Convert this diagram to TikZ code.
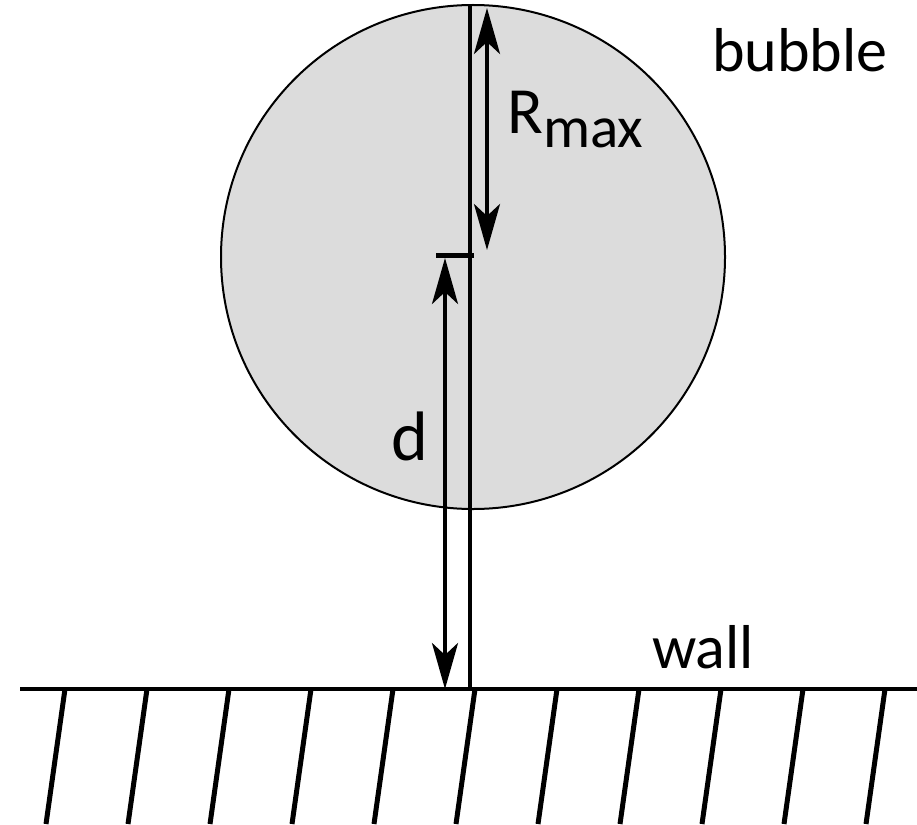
\documentclass[tikz,border=0pt]{standalone}
\usepackage{fontspec}
\setmainfont{Carlito}
\usepackage{tikz}
\usetikzlibrary{arrows.meta}
\definecolor{bubblegray}{RGB}{220,220,220}
\tikzset{
  bubblecircle/.style={circle, draw=black, line width=2pt, fill=bubblegray, minimum size=504pt, inner sep=0pt},
  dimarrow/.style={line width=4pt, {Stealth[length=46pt, width=26pt, inset=12pt]}-{Stealth[length=46pt, width=26pt, inset=12pt]}},
  axisline/.style={line width=4pt},
  wallline/.style={line width=4pt},
  hatchline/.style={line width=5pt},
  lbl/.style={inner sep=0pt, anchor=base west, font=\fontsize{62}{70}\selectfont}
}

\begin{document}
\begin{tikzpicture}[x=1pt, y=-1pt]
  \useasboundingbox (0,0) rectangle (917,824);
  % bubble
  \node[bubblecircle] (bubble) at (473,257) {};
  % wall
  \coordinate (wallW) at (20,689);
  \coordinate (wallE) at (917,689);
  \draw[wallline] (wallW) -- (wallE);
  \foreach \k in {0,...,10} {
    \draw[hatchline] (65+82*\k,689) -- ++(-19,135);
  }
  % axis and centre mark
  \coordinate (axistop) at (470,5);
  \coordinate (axisfoot) at (470,689);
  \draw[axisline] (axistop) -- (axisfoot);
  \coordinate (markW) at (436,255);
  \coordinate (markE) at (474,255);
  \draw[line width=5pt] (markW) -- (markE);
  % dimensions
  \coordinate (rtop) at (487,8);
  \coordinate (rbot) at (487,250);
  \draw[dimarrow] (rtop) -- (rbot);
  \coordinate (dtop) at (445,258);
  \coordinate (dbot) at (445,689);
  \draw[dimarrow] (dtop) -- (dbot);
  % labels
  \node[lbl, font=\fontsize{66}{70}\selectfont] (rmaxlabel) at (507,133) {R\raisebox{-14pt}{\fontsize{59}{60}\selectfont max}};
  \node[lbl] (bubblelabel) at (712,72) {bubble};
  \node[lbl] (walllabel) at (652,668) {wall};
  \node[lbl, font=\fontsize{70}{72}\selectfont] (dlabel) at (391,460) {d};
\end{tikzpicture}
\end{document}
